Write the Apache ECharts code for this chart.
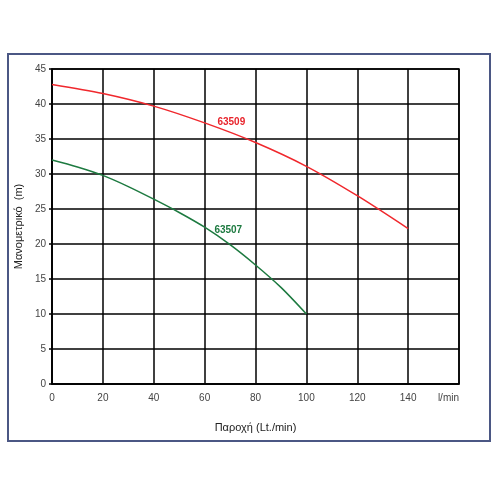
<!DOCTYPE html>
<html>
<head>
<meta charset="utf-8">
<script src="https://cdn.jsdelivr.net/npm/echarts@6/dist/echarts.min.js"></script>
<style>
  html, body { margin: 0; padding: 0; background: #fff; }
  #chart { width: 500px; height: 500px; }
</style>
</head>
<body>
<div id="chart"></div>
<script>
// flow (l/min) and head (m)
const flow509 = [0, 20, 40, 60, 80, 100, 120, 140];
const head509 = [42.8, 41.5, 39.7, 37.3, 34.5, 31.1, 26.9, 22.2];
const flow507 = [0, 10, 20, 30, 40, 50, 60, 70, 80, 90, 100];
const head507 = [32, 31, 29.8, 28.2, 26.4, 24.5, 22.4, 19.9, 17, 13.8, 10];

const xTicks = [0, 20, 40, 60, 80, 100, 120, 140, 160];
const yTicks = [0, 5, 10, 15, 20, 25, 30, 35, 40, 45];
const xUnit = "l/min";

const chart = echarts.init(document.getElementById("chart"));

const font = "Liberation Sans, Arial, sans-serif";

// small text tag placed at a data coordinate
const tag = (text, coord, color) => ({
  symbol: "circle",
  symbolSize: 1,
  itemStyle: { color: "rgba(0,0,0,0)" },
  data: [{ coord: coord }],
  label: {
    show: true,
    position: "inside",
    formatter: text,
    color: color,
    fontFamily: font,
    fontWeight: "bold",
    fontSize: 10,
  },
});

const option = {
  animation: false,
  graphic: [
    {
      type: "rect",
      shape: { x: 8, y: 54, width: 482, height: 387 },
      style: { fill: "none", stroke: "#4b5784", lineWidth: 2 },
      z: 0,
    },
  ],
  grid: {
    left: 52,
    right: 41,
    top: 69,
    bottom: 116,
    show: true,
    borderColor: "#000",
    borderWidth: 1.5,
  },
  xAxis: {
    type: "value",
    min: xTicks[0],
    max: xTicks[xTicks.length - 1],
    interval: 20,
    name: "Παροχή (Lt./min)",
    nameLocation: "middle",
    nameGap: 38,
    nameTextStyle: { fontFamily: font, fontSize: 11, color: "#222" },
    axisLine: { lineStyle: { color: "#000", width: 1.5 } },
    axisTick: { show: false },
    axisLabel: {
      fontFamily: font,
      fontSize: 10,
      color: "#444",
      margin: 9,
      alignMaxLabel: "right",
      formatter: (v) => (v === xTicks[xTicks.length - 1] ? xUnit : v),
    },
    splitLine: { lineStyle: { color: "#000", width: 1.5 } },
  },
  yAxis: {
    type: "value",
    min: yTicks[0],
    max: yTicks[yTicks.length - 1],
    interval: 5,
    name: "Μανομετρικό  (m)",
    nameLocation: "middle",
    nameGap: 27,
    nameTextStyle: { fontFamily: font, fontSize: 11, color: "#222" },
    axisLine: { lineStyle: { color: "#000", width: 1.5 } },
    axisTick: { show: true, length: 3, lineStyle: { color: "#000", width: 1.5 } },
    axisLabel: { fontFamily: font, fontSize: 10, color: "#444", margin: 6 },
    splitLine: { lineStyle: { color: "#000", width: 1.5 } },
  },
  series: [
    {
      name: "63509",
      type: "line",
      smooth: 0.3,
      symbol: "none",
      data: flow509.map((x, i) => [x, head509[i]]),
      lineStyle: { color: "#f0282d", width: 1.5 },
      markPoint: tag("63509", [70.5, 37.4], "#e8242c"),
      z: 5,
    },
    {
      name: "63507",
      type: "line",
      smooth: 0.3,
      symbol: "none",
      data: flow507.map((x, i) => [x, head507[i]]),
      lineStyle: { color: "#1d7a40", width: 1.5 },
      markPoint: tag("63507", [69.3, 22], "#1d7a40"),
      z: 5,
    },
  ],
};

chart.setOption(option);
</script>
</body>
</html>
